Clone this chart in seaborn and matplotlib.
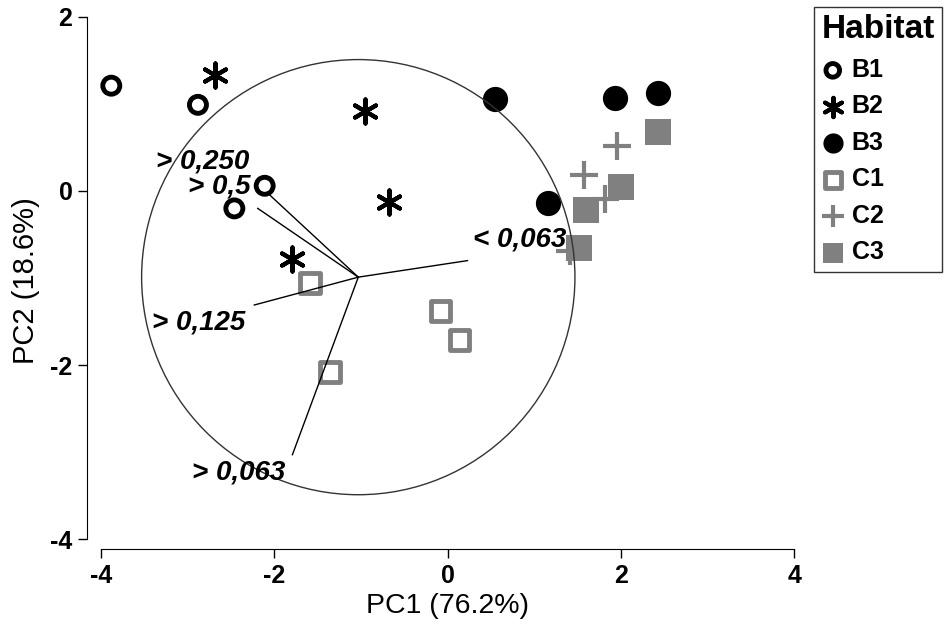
import pandas as pd
import matplotlib
matplotlib.use('Agg')
import matplotlib.pyplot as plt
from matplotlib.patches import Circle
import seaborn as sb

# PCA scores
habitat = ['B1'] * 4 + ['B2'] * 4 + ['B3'] * 4 + ['C1'] * 4 + ['C2'] * 4 + ['C3'] * 4
pc1 = [-3.88, -2.88, -2.11, -2.46,
       -2.68, -0.95, -0.67, -1.80,
       0.55, 1.93, 2.43, 1.16,
       -1.59, -0.08, 0.14, -1.36,
       1.95, 1.57, 1.82, 1.41,
       2.43, 2.00, 1.60, 1.52]
pc2 = [1.21, 0.99, 0.06, -0.20,
       1.33, 0.92, -0.13, -0.78,
       1.06, 1.07, 1.13, -0.14,
       -1.06, -1.38, -1.71, -2.08,
       0.52, 0.18, -0.09, -0.69,
       0.68, 0.05, -0.22, -0.66]

# grain size loading vectors (biplot arrows) and the correlation circle
origin = (-1.03, -0.99)
circle_radius = 2.5
vec_labels = ['> 0,250', '> 0,5', '< 0,063', '> 0,125', '> 0,063']
vec_x = [-2.08, -2.19, 0.23, -2.23, -1.79]
vec_y = [-0.02, -0.20, -0.80, -1.31, -3.03]

df = pd.DataFrame({'Habitat': habitat, 'PC1': pc1, 'PC2': pc2})

plt.rcParams['font.family'] = ['Liberation Sans', 'DejaVu Sans']
plt.rcParams['axes.unicode_minus'] = False

grey = '#808080'
styles = {
    'B1': dict(marker='o', s=150, facecolor='none', edgecolor='black', linewidth=3.5),
    'B2': dict(marker=(6, 2, 0), s=300, color='black', edgecolor='black', linewidth=3),
    'B3': dict(marker='o', s=330, facecolor='black', edgecolor='black', linewidth=0),
    'C1': dict(marker='s', s=200, facecolor='none', edgecolor=grey, linewidth=3.5),
    'C2': dict(marker='+', s=420, color=grey, edgecolor=grey, linewidth=3),
    'C3': dict(marker='s', s=330, facecolor=grey, edgecolor=grey, linewidth=0),
}

fig = plt.figure(figsize=(9.5, 6.29), dpi=100)
ax = fig.add_axes([0.0916, 0.127, 0.759, 0.853])

for hab, grp in df.groupby('Habitat'):
    sb.scatterplot(data=grp, x='PC1', y='PC2', ax=ax, label=hab, legend=False,
                   zorder=2, **styles[hab])

ax.add_patch(Circle(origin, circle_radius, fill=False, edgecolor='#333333',
                    linewidth=1, zorder=3))
for lab, vx, vy in zip(vec_labels, vec_x, vec_y):
    ax.plot([origin[0], vx], [origin[1], vy], color='black', linewidth=1, zorder=3)

# label placement next to each vector tip
text_pos = {'> 0,250': (-3.36, 0.34), '> 0,5': (-3.0, 0.05), '< 0,063': (0.29, -0.56),
            '> 0,125': (-3.41, -1.51), '> 0,063': (-2.95, -3.24)}
for lab in vec_labels:
    tx, ty = text_pos[lab]
    ax.text(tx, ty, lab, fontsize=20, fontweight='bold', fontstyle='italic',
            ha='left', va='center', zorder=4)

ax.set_xlim(-4.16, 4.16)
ax.set_ylim(-4.115, 2.05)
ax.set_xticks([-4, -2, 0, 2, 4])
ax.set_yticks([-4, -2, 0, 2])
ax.spines['top'].set_visible(False)
ax.spines['right'].set_visible(False)
ax.spines['left'].set_bounds(-4, 2)
ax.spines['bottom'].set_bounds(-4, 4)
ax.tick_params(direction='out', length=6.5, width=1, labelsize=18, pad=4)
for t in ax.get_xticklabels() + ax.get_yticklabels():
    t.set_fontweight('bold')
ax.set_xlabel('PC1 (76.2%)', fontsize=20.5, labelpad=4)
ax.set_ylabel('PC2 (18.6%)', fontsize=21, labelpad=7)

leg = ax.legend(title='Habitat', loc='upper right', bbox_to_anchor=(0.992, 0.989),
                bbox_transform=fig.transFigure, frameon=True, fancybox=False,
                edgecolor='black', fontsize=18, title_fontsize=24, handletextpad=0.3,
                labelspacing=0.5, borderpad=0.3, handlelength=0.9, markerscale=0.8,
                borderaxespad=0)
leg._legend_box.align = 'left'
leg.get_frame().set_linewidth(1)
leg.get_title().set_fontweight('bold')
for t in leg.get_texts():
    t.set_fontweight('bold')

fig.savefig('out.png', dpi=100)
